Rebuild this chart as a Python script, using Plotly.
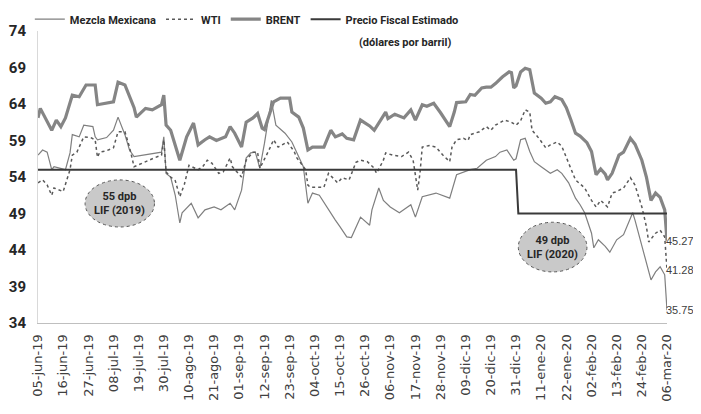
import plotly.graph_objects as go

# ---------------- data ----------------
brent_dates = ["2019-06-05","2019-06-06","2019-06-11","2019-06-13","2019-06-15","2019-06-17","2019-06-20","2019-06-23","2019-06-26","2019-06-30",
"2019-07-01","2019-07-08","2019-07-10","2019-07-13","2019-07-17","2019-07-18","2019-07-22","2019-07-25","2019-07-29","2019-07-30","2019-07-31",
"2019-08-02","2019-08-06","2019-08-09","2019-08-12","2019-08-14","2019-08-17","2019-08-19","2019-08-22","2019-08-26","2019-08-28","2019-08-30",
"2019-09-02","2019-09-04","2019-09-07","2019-09-09","2019-09-11","2019-09-12","2019-09-16","2019-09-19","2019-09-23","2019-09-24","2019-09-27","2019-09-29",
"2019-10-01","2019-10-03","2019-10-08","2019-10-11","2019-10-13","2019-10-16","2019-10-18","2019-10-21","2019-10-24","2019-10-28","2019-10-30",
"2019-11-03","2019-11-04","2019-11-05","2019-11-08","2019-11-12","2019-11-15","2019-11-17","2019-11-20","2019-11-22","2019-11-25","2019-11-28",
"2019-12-02","2019-12-04","2019-12-05","2019-12-09","2019-12-11","2019-12-13","2019-12-16","2019-12-18","2019-12-20","2019-12-22","2019-12-25","2019-12-28","2019-12-29","2019-12-30","2019-12-31",
"2020-01-02","2020-01-04","2020-01-06","2020-01-08","2020-01-11","2020-01-13","2020-01-15","2020-01-17","2020-01-20","2020-01-22","2020-01-24","2020-01-26","2020-01-28","2020-01-31",
"2020-02-02","2020-02-04","2020-02-06","2020-02-08","2020-02-09","2020-02-11","2020-02-14","2020-02-16","2020-02-19","2020-02-21","2020-02-24","2020-02-26","2020-02-28",
"2020-03-01","2020-03-03","2020-03-05","2020-03-06"]
brent_values = [62.1,63.4,60.4,61.8,60.9,62.1,65.2,65.0,66.6,66.6,
63.9,64.3,67.0,66.6,63.5,62.2,63.4,63.2,63.9,65.2,61.1,
60.4,56.3,59.5,61.4,58.4,59.1,59.5,59.0,59.5,60.9,60.0,
58.1,61.5,62.1,62.7,60.7,60.5,64.3,64.8,64.8,62.9,62.2,60.7,
57.7,58.1,58.1,60.4,59.5,59.9,59.3,59.1,61.8,61.0,60.4,
62.5,62.9,62.0,62.6,62.1,63.2,61.8,63.9,63.7,64.1,62.8,
60.9,62.9,64.2,64.3,65.3,65.2,66.2,66.3,66.3,66.8,67.7,68.4,68.3,66.2,66.5,
68.4,68.9,68.7,65.5,64.8,64.1,64.3,65.0,64.6,63.5,61.8,60.0,59.6,58.7,
57.5,54.3,55.1,54.4,53.6,54.5,57.0,57.4,59.3,58.5,56.3,54.0,50.8,
51.8,51.2,49.5,45.27]

wti_dates = ["2019-06-05","2019-06-07","2019-06-09","2019-06-11","2019-06-12","2019-06-14","2019-06-16","2019-06-18","2019-06-19","2019-06-20","2019-06-22","2019-06-25","2019-06-28","2019-06-30",
"2019-07-01","2019-07-02","2019-07-05","2019-07-08","2019-07-10","2019-07-13","2019-07-15","2019-07-17","2019-07-19","2019-07-21","2019-07-25","2019-07-29","2019-07-30","2019-07-31",
"2019-08-02","2019-08-04","2019-08-06","2019-08-08","2019-08-10","2019-08-12","2019-08-14","2019-08-16","2019-08-18","2019-08-20","2019-08-23","2019-08-25","2019-08-28","2019-08-29",
"2019-09-02","2019-09-04","2019-09-07","2019-09-09","2019-09-10","2019-09-14","2019-09-16","2019-09-18","2019-09-22","2019-09-25","2019-09-26","2019-09-30",
"2019-10-01","2019-10-02","2019-10-08","2019-10-10","2019-10-14","2019-10-16","2019-10-19","2019-10-22","2019-10-24","2019-10-27","2019-10-30","2019-10-31",
"2019-11-03","2019-11-04","2019-11-07","2019-11-11","2019-11-14","2019-11-16","2019-11-17","2019-11-18","2019-11-19","2019-11-20","2019-11-23","2019-11-26","2019-11-29",
"2019-12-02","2019-12-03","2019-12-05","2019-12-08","2019-12-10","2019-12-11","2019-12-15","2019-12-18","2019-12-20","2019-12-22","2019-12-26","2019-12-29","2019-12-31",
"2020-01-02","2020-01-04","2020-01-06","2020-01-07","2020-01-10","2020-01-13","2020-01-15","2020-01-18","2020-01-20","2020-01-23","2020-01-26","2020-01-30",
"2020-02-02","2020-02-04","2020-02-06","2020-02-09","2020-02-11","2020-02-13","2020-02-16","2020-02-19","2020-02-21","2020-02-24","2020-02-26","2020-02-27",
"2020-03-01","2020-03-03","2020-03-05","2020-03-06"]
wti_values = [53.2,53.6,52.9,51.5,52.5,52.2,52.0,54.0,55.0,57.0,57.4,59.5,59.4,59.1,
56.7,57.4,57.6,58.0,60.2,60.2,58.1,55.4,55.7,55.9,56.5,57.0,59.1,54.7,
54.0,53.5,51.3,53.0,55.6,55.3,55.0,55.4,56.3,55.9,54.5,54.7,56.6,55.4,
54.0,56.3,57.4,57.4,55.2,57.7,59.1,58.1,58.8,57.5,56.7,55.0,
52.9,52.6,52.6,54.5,53.2,53.9,53.6,56.0,56.3,56.1,55.2,54.5,
56.3,57.3,57.0,56.8,57.4,56.3,54.5,52.2,54.5,58.1,58.3,58.1,57.0,
56.1,58.1,59.1,59.3,59.0,59.8,60.2,60.9,60.4,61.1,61.8,61.5,61.1,
61.7,63.2,62.9,60.4,59.3,58.0,58.4,58.8,58.2,55.9,53.6,52.5,
50.8,49.9,50.8,49.9,51.8,52.0,52.5,53.9,52.9,49.9,47.2,45.1,
46.3,46.7,45.8,41.28]

mezcla_dates = ["2019-06-05","2019-06-07","2019-06-09","2019-06-11","2019-06-12","2019-06-15","2019-06-17","2019-06-19","2019-06-20","2019-06-23","2019-06-25","2019-06-29","2019-06-30",
"2019-07-01","2019-07-05","2019-07-08","2019-07-10","2019-07-13","2019-07-15","2019-07-17","2019-07-21","2019-07-25","2019-07-29","2019-07-30","2019-07-31",
"2019-08-02","2019-08-04","2019-08-06","2019-08-07","2019-08-11","2019-08-14","2019-08-17","2019-08-21","2019-08-24","2019-08-28","2019-08-30",
"2019-09-02","2019-09-04","2019-09-06","2019-09-08","2019-09-10","2019-09-12","2019-09-15","2019-09-17","2019-09-21","2019-09-24","2019-09-29",
"2019-10-01","2019-10-03","2019-10-06","2019-10-10","2019-10-13","2019-10-15","2019-10-18","2019-10-20","2019-10-24","2019-10-28","2019-10-29",
"2019-11-01","2019-11-03","2019-11-06","2019-11-10","2019-11-15","2019-11-17","2019-11-20","2019-11-26",
"2019-12-02","2019-12-04","2019-12-05","2019-12-11","2019-12-14","2019-12-18","2019-12-22","2019-12-24","2019-12-27","2019-12-30","2019-12-31",
"2020-01-02","2020-01-04","2020-01-06","2020-01-08","2020-01-11","2020-01-15","2020-01-18","2020-01-20","2020-01-23","2020-01-26","2020-01-28","2020-01-30",
"2020-02-02","2020-02-03","2020-02-05","2020-02-08","2020-02-10","2020-02-13","2020-02-16","2020-02-18","2020-02-20","2020-02-21","2020-02-23","2020-02-25","2020-02-28",
"2020-03-01","2020-03-03","2020-03-05","2020-03-06"]
mezcla_values = [57.0,57.7,57.4,55.0,55.4,55.2,55.0,57.3,59.8,59.5,61.1,60.9,59.5,
59.1,59.4,60.4,62.2,59.8,57.7,56.8,57.0,57.2,57.4,59.5,54.5,
54.0,51.5,47.7,49.1,50.4,48.4,49.5,49.9,49.5,50.4,49.5,
52.2,56.6,57.3,57.4,55.2,58.6,64.5,61.1,60.0,58.8,55.4,
50.4,51.8,51.5,49.5,48.1,47.2,45.8,45.7,48.5,47.4,49.5,
52.5,50.8,49.9,49.1,50.2,48.5,51.3,51.8,
51.1,53.3,54.3,55.0,55.2,56.3,56.8,57.4,57.7,56.3,56.5,
59.1,59.3,57.5,56.1,55.4,54.5,55.0,54.5,53.2,51.1,50.2,49.1,
46.3,44.3,45.4,44.5,43.7,45.4,46.1,47.7,49.1,48.1,45.8,43.6,39.9,
41.0,41.7,40.6,35.75]

fiscal_dates = ["2019-06-05", "2019-12-31", "2020-01-01", "2020-03-06"]
fiscal_values = [55, 55, 49, 49]

tick_dates = ["2019-06-05","2019-06-16","2019-06-27","2019-07-08","2019-07-19","2019-07-30","2019-08-10","2019-08-21",
"2019-09-01","2019-09-12","2019-09-23","2019-10-04","2019-10-15","2019-10-26","2019-11-06","2019-11-17","2019-11-28",
"2019-12-09","2019-12-20","2019-12-31","2020-01-11","2020-01-22","2020-02-02","2020-02-13","2020-02-24","2020-03-06"]
tick_labels = ["05-jun-19","16-jun-19","27-jun-19","08-jul-19","19-jul-19","30-jul-19","10-ago-19","21-ago-19",
"01-sep-19","12-sep-19","23-sep-19","04-oct-19","15-oct-19","26-oct-19","06-nov-19","17-nov-19","28-nov-19",
"09-dic-19","20-dic-19","31-dic-19","11-ene-20","22-ene-20","02-feb-20","13-feb-20","24-feb-20","06-mar-20"]

y_ticks = [34, 39, 44, 49, 54, 59, 64, 69, 74]

end_labels = ["45.27", "41.28", "35.75"]
end_values = [45.27, 41.28, 35.75]

NARROW = "Roboto, Liberation Sans, sans-serif"

fig = go.Figure()
fig.add_trace(go.Scatter(x=mezcla_dates, y=mezcla_values, mode="lines", name="Mezcla Mexicana",
                         line=dict(color="#7f7f7f", width=1.2)))
fig.add_trace(go.Scatter(x=wti_dates, y=wti_values, mode="lines", name="WTI",
                         line=dict(color="#595959", width=1.5, dash="dot")))
fig.add_trace(go.Scatter(x=brent_dates, y=brent_values, mode="lines", name="BRENT",
                         line=dict(color="#858585", width=3.2)))
fig.add_trace(go.Scatter(x=fiscal_dates, y=fiscal_values, mode="lines", name="Precio Fiscal Estimado",
                         line=dict(color="#3a3a3a", width=2)))

# ellipse call-outs
ell = [("2019-06-25 14:00", "2019-07-25 22:00", 47.15, 53.6),
       ("2020-01-01", "2020-01-31", 41.0, 47.8)]
for x0, x1, y0, y1 in ell:
    fig.add_shape(type="circle", xref="x", yref="y", x0=x0, x1=x1, y0=y0, y1=y1,
                  fillcolor="#c9c9c9", line=dict(color="#555555", width=1, dash="dot"), layer="above")

fig.add_annotation(x="2019-07-10 18:00", y=50.4, text="55 dpb<br>LIF (2019)", showarrow=False,
                   font=dict(family=NARROW, size=11, color="#262626", weight="bold"))
fig.add_annotation(x="2020-01-16", y=44.4, text="49 dpb<br>LIF (2020)", showarrow=False,
                   font=dict(family=NARROW, size=11, color="#262626", weight="bold"))

# end-value labels
for yv, txt in zip(end_values, end_labels):
    fig.add_annotation(x="2020-03-06", y=yv, text=txt, showarrow=False, xanchor="left", xshift=-1,
                       borderpad=0, borderwidth=0,
                       font=dict(family="Liberation Sans, sans-serif", size=11, color="#404040"))

fig.add_annotation(xref="paper", yref="paper", x=0.583, y=1.0, yanchor="middle", yshift=-11,
                   text="(dólares por barril)", showarrow=False,
                   font=dict(family=NARROW, size=11, color="#262626", weight="bold"))

# the page body adds an 8px margin, so the figure is 8px smaller than the window
fig.update_layout(
    width=693, height=406,
    margin=dict(l=30, r=34, t=23, b=91, autoexpand=False),
    paper_bgcolor="white", plot_bgcolor="white",
    showlegend=True,
    legend=dict(orientation="h", x=-0.013, y=1.09, xanchor="left", yanchor="top",
                font=dict(family=NARROW, size=11, color="#262626", weight="bold"),
                itemwidth=30, tracegroupgap=0, bgcolor="rgba(0,0,0,0)"),
    xaxis=dict(type="date", range=["2019-06-05", "2020-03-06"], tickvals=tick_dates, ticktext=tick_labels,
               tickangle=-90, tickfont=dict(family="DejaVu Sans", size=13, color="#404040"),
               showline=True, linecolor="#bfbfbf", linewidth=1, showgrid=False, zeroline=False, ticks="",
               ticklabelstandoff=5, automargin=False),
    yaxis=dict(range=[34, 74], tickvals=y_ticks, ticktext=[str(v) for v in y_ticks],
               tickfont=dict(family=NARROW, size=15, color="#262626", weight="bold"),
               showline=True, linecolor="#d9d9d9", linewidth=1, showgrid=False, zeroline=False, ticks="",
               ticklabelstandoff=8, automargin=False),
)

fig.write_html("out.html")
